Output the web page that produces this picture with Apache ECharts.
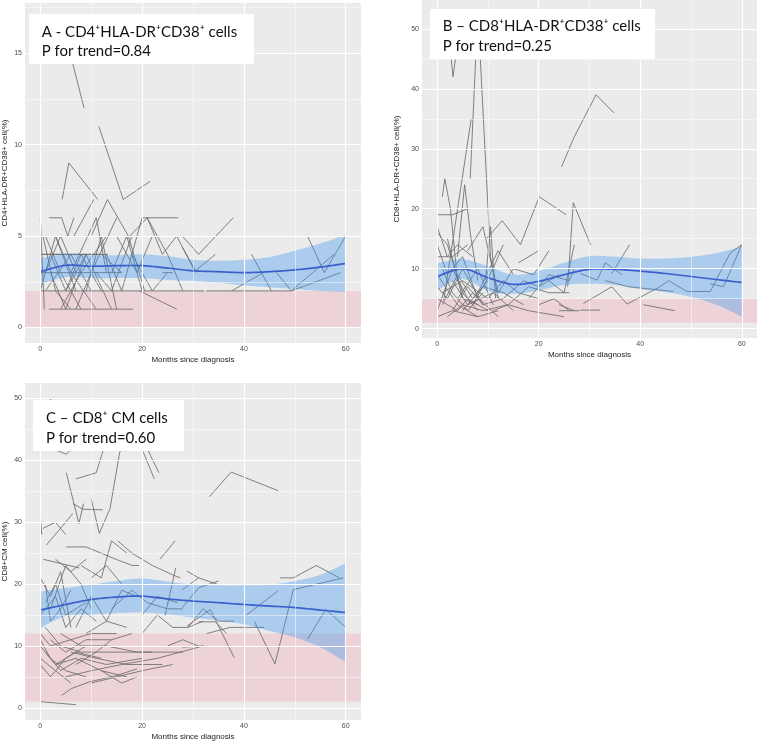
<!DOCTYPE html>
<html>
<head>
<meta charset="utf-8">
<script src="https://cdn.jsdelivr.net/npm/echarts@6/dist/echarts.min.js"></script>
<style>
html,body{margin:0;padding:0;background:#fff;}
#chart{width:758px;height:742px;}
</style>
</head>
<body>
<div id="chart"></div>
<script>
// ---------- axis ticks ----------
const xTicks = [0, 20, 40, 60];
const xMinor = [10, 30, 50];
const yTicksA = [0, 5, 10, 15];
const yMinorA = [2.5, 7.5, 12.5, 17.5];
const yTicksB = [0, 10, 20, 30, 40, 50];
const yMinorB = [5, 15, 25, 35, 45];
const yTicksC = [0, 10, 20, 30, 40, 50];
const yMinorC = [5, 15, 25, 35, 45];

// ---------- titles ----------
const titleA = ['A - CD4⁺HLA-DR⁺CD38⁺ cells', 'P for trend=0.84'];
const titleB = ['B – CD8⁺HLA-DR⁺CD38⁺ cells', 'P for trend=0.25'];
const titleC = ['C – CD8⁺ CM cells', 'P for trend=0.60'];
const yNameA = 'CD4+HLA-DR+CD38+ cell(%)';
const yNameB = 'CD8+HLA-DR+CD38+ cell(%)';
const yNameC = 'CD8+CM cell(%)';
const xName = 'Months since diagnosis';

// ---------- reference (normal range) bands ----------
const refA = [0, 2];
const refB = [1, 5];
const refC = [1, 12];

// ---------- smoothed fit (loess) ----------
const fitX = [0, 5, 10, 15, 20, 25, 30, 35, 40, 45, 50, 55, 60];
const fitA = [3.05, 3.4, 3.35, 3.38, 3.38, 3.25, 3.1, 3.05, 3.0, 3.05, 3.15, 3.3, 3.5];
const fitALo = [2.35, 2.75, 2.7, 2.7, 2.7, 2.6, 2.55, 2.45, 2.3, 2.2, 2.1, 2.0, 1.95];
const fitAHi = [3.8, 4.0, 3.95, 3.95, 4.0, 3.9, 3.7, 3.65, 3.7, 3.85, 4.2, 4.6, 5.05];

const fitB = [8.7, 10.0, 8.5, 7.4, 7.9, 9.0, 9.9, 9.9, 9.6, 9.2, 8.7, 8.2, 7.7];
const fitBLo = [6.4, 8.3, 6.3, 5.8, 6.4, 7.3, 7.5, 7.3, 6.6, 6.1, 5.3, 4.0, 2.0];
const fitBHi = [10.9, 11.6, 10.4, 9.0, 9.6, 11.0, 12.1, 12.0, 11.7, 11.7, 12.0, 12.6, 13.7];

const fitC = [15.8, 16.7, 17.5, 17.9, 18.05, 17.6, 17.25, 17.0, 16.7, 16.45, 16.2, 15.8, 15.4];
const fitCLo = [12.9, 14.85, 15.1, 15.3, 15.4, 15.1, 14.6, 14.1, 13.5, 12.4, 11.4, 9.8, 7.4];
const fitCHi = [18.75, 19.4, 19.9, 20.5, 20.9, 20.4, 19.9, 19.8, 19.8, 19.9, 20.5, 21.5, 23.4];

// ---------- individual patient trajectories [month, value] ----------
const linesA = [
  [[4.5,16.5],[8.6,12]],
  [[11.5,11],[16.3,7],[21.6,8]],
  [[4.3,7],[5.6,9],[11.3,7]],
  [[1.7,6],[4.2,6],[5.4,5],[6.6,6]],
  [[6.6,5],[10.5,7]],
  [[20,6],[27.1,6]],
  [[17.6,5],[21,6],[24,4],[26.8,5],[30.5,3]],
  [[10,5],[13.2,7],[17.3,5],[20.5,2]],
  [[0,4],[13.3,4]],
  [[0,4],[12,4],[16,3]],
  [[0,3],[16,3]],
  [[0,2],[32.2,2]],
  [[32.6,2],[49.3,2]],
  [[1.7,1],[18.2,1]],
  [[19.5,2],[26.8,1]],
  [[27.9,5],[31.1,4],[37.9,6]],
  [[27.9,4.4],[30.5,3.1],[34.4,4]],
  [[41.5,4],[45.4,2]],
  [[37.6,2],[43.8,3]],
  [[46.4,3],[49.3,2],[59,3]],
  [[52.5,5],[55.8,3],[60,5]],
  [[49.3,2],[57.7,4]],
  [[0,6],[0.8,1]],
  [[0.5,5],[3,2],[6,1]],
  [[1,5],[4,3],[8,1]],
  [[0,2],[3,5],[7,2]],
  [[2,3],[5,1],[9,4]],
  [[3,5],[6,3],[11,1]],
  [[1,2],[6,4],[10,2]],
  [[4,1],[8,3],[13,5]],
  [[5,2],[9,4],[14,1]],
  [[7,1],[10,3],[15,6]],
  [[2,4],[5,2],[8,4],[12,2]],
  [[6,3],[11,6],[13,3]],
  [[9,2],[12,5],[15,1]],
  [[11,3],[14,2],[18,5]],
  [[13,4],[16,2],[20,6]],
  [[14,3],[17,5],[20,2]],
  [[18,4],[22,2],[25,3]],
  [[21,6],[25,4],[28,2]],
  [[15,5],[19,3],[22,5]],
  [[1,3],[4,5],[7,3]],
  [[24,3],[26,3]]
];

const linesB = [
  [[6.5,25],[8,53],[10.5,12],[12,5]],
  [[2.4,48],[3.1,42],[4.1,48]],
  [[1.3,4.8],[6.7,35]],
  [[4,12],[5.4,24],[6.5,16],[8,8]],
  [[1,22],[1.5,25],[2.6,20],[4,8]],
  [[9.7,15],[12.8,18],[16.4,14],[20.1,22],[25.4,19]],
  [[9.5,8],[10.5,17],[11.5,5]],
  [[25.7,7],[26.8,21],[30.2,14]],
  [[24.5,27],[27,32],[31.3,39],[34.8,36]],
  [[28.2,9.2],[31.5,8.1],[33.1,11],[36.4,9]],
  [[34.4,9.2],[37.9,14]],
  [[33.1,8],[37.7,7],[46.5,6.2]],
  [[28.8,4.2],[34.4,7],[37.4,4.1],[43.9,7],[45.6,8],[49.2,6.2],[53.8,6.2],[57.7,12.6],[60,14]],
  [[53.8,7.5],[56.4,7],[60,14]],
  [[40.6,4],[46.8,3]],
  [[28.2,3.1],[32.1,3.1]],
  [[24,4],[27,3]],
  [[24,3],[28,3]],
  [[0,19],[3,19],[6,20]],
  [[0,17],[2,12],[4,14],[7,12]],
  [[0,12],[3,12],[6,14]],
  [[0,16],[2,14],[5,6],[8,3]],
  [[0,3],[3,10],[6,5],[10,3]],
  [[0,9],[4,4],[8,2]],
  [[0,7],[2,5],[5,10],[9,4]],
  [[1,10],[3,6],[6,3],[9,6]],
  [[0,5],[4,3],[7,6],[12,2]],
  [[2,2],[5,4],[9,3],[14,4]],
  [[0,2],[3,3],[8,2],[12,3]],
  [[3,8],[6,4],[11,6],[15,3]],
  [[4,5],[8,10],[11,4]],
  [[5,3],[9,7],[13,6],[17,4]],
  [[1,6],[5,8],[10,5]],
  [[7,4],[11,10],[13,14]],
  [[10,5],[13,8],[16,6],[20,5]],
  [[11,3],[14,4],[18,3],[25,2]],
  [[12,6],[15,10],[19,9],[22,13]],
  [[13,5],[17,8],[20,7],[24,9]],
  [[8,6],[12,13],[15,9]],
  [[16,11],[20,13]],
  [[14,4],[18,7],[22,6],[26,6]],
  [[18,5],[22,9],[26,8],[27,10]],
  [[20,4],[23,5],[26,3]],
  [[22,8],[25,6],[27,14]],
  [[6,13],[9,17],[12,6]],
  [[0,14],[2,9],[5,12],[8,5]],
  [[1,4],[4,9],[7,5],[10,8]],
  [[2,15],[5,5],[8,4]],
  [[3,3],[6,7],[9,4],[13,5]]
];

const linesC = [
  [[2,50],[3,45]],
  [[3.2,41.6],[5.1,41],[6.4,42]],
  [[7,37],[11,38],[12.5,42]],
  [[5.1,38],[7.6,29.8],[8.5,33]],
  [[10,33.8],[11.6,28.2],[13.7,32.2],[15.6,41.3],[16.5,43]],
  [[19.4,43],[22.4,37]],
  [[20.7,42.4],[23.3,38]],
  [[0.5,29],[3,30],[5,28]],
  [[0,31],[0.3,28]],
  [[1.2,26.3],[6.4,31.4]],
  [[6.4,33],[8.4,32.1],[12.3,32]],
  [[5.1,26],[9,26],[15.2,23.9],[18.1,23],[19.4,23]],
  [[15.2,27],[18,25],[22,23],[26,21.5],[27.5,21]],
  [[23.5,24],[26.5,27]],
  [[0.6,24],[7.7,22.6]],
  [[28.8,22.1],[31.1,21],[34.7,20]],
  [[27.9,19.1],[31.1,21]],
  [[47.1,21],[49.7,21],[54.2,23],[58.8,21]],
  [[42.1,13.9],[46.1,7.1],[49.7,19.1],[59.5,21]],
  [[40.5,15],[46.7,18.9]],
  [[52.5,11.1],[56.1,15.9],[60,13]],
  [[32.7,12],[37.3,13],[44,13]],
  [[28.8,13.2],[33.4,15.9],[38.1,8.1]],
  [[31.1,13.9],[34.4,13.9],[36.6,12]],
  [[27.9,9.8],[32.1,10]],
  [[33.2,34.1],[37.5,38.1],[46.7,35.1]],
  [[24.5,14.9],[26.6,22.6]],
  [[27.9,16.2],[31.1,19.4],[35,20.5]],
  [[0,1],[7,0.5]],
  [[4.2,2],[6.1,3.1],[9.7,4.2],[14.9,5.2],[19,6.3]],
  [[0,11],[2,8],[5,6],[9,5]],
  [[0,10],[3,7],[7,9],[12,8]],
  [[0,12],[2,10],[6,11],[10,12],[15,12]],
  [[1,9],[4,6],[8,8],[13,7],[20,8]],
  [[0,7],[2,5],[5,8],[9,10]],
  [[1,13],[4,10],[8,9],[14,9],[22,9]],
  [[2,11],[5,9],[9,11],[14,11]],
  [[3,7],[7,8],[12,6],[17,5]],
  [[4,12],[8,10],[13,10],[19,9],[28,9]],
  [[5,5],[10,6],[16,7],[23,8],[32,10]],
  [[6,9],[11,8],[17,7],[24,7]],
  [[0,8],[3,6],[6,4]],
  [[10,4],[15,5],[20,6],[26,7]],
  [[12,6],[16,4],[19,5]],
  [[7,7],[11,9],[14,11],[18,12]],
  [[9,12],[13,14],[17,13]],
  [[1,17],[3,20],[5,15],[9,17]],
  [[0,21],[2,18],[4,22],[6,13]],
  [[1,20],[2,14],[4,16],[6,19]],
  [[0,15],[3,18],[5,13],[8,16],[11,14]],
  [[2,16],[5,23],[8,20],[10,16]],
  [[7,13],[10,18],[13,14],[16,19],[19,18]],
  [[14,16],[18,19],[21,17],[25,16],[28,16]],
  [[20,12],[23,15],[26,13],[29,13],[32,14]],
  [[25,10],[28,11],[31,10]],
  [[29,13],[32,16],[35,14],[38,14]],
  [[8,23],[12,21],[14,27],[17,25]],
  [[3,24],[6,22],[9,24]],
  [[10,21],[13,23],[16,20]],
  [[20,15],[23,18],[27,17]]
];

// ---------- build chart ----------
const chart = echarts.init(document.getElementById('chart'), null, {renderer: 'canvas'});

const grids = [
  {left: 21, top: 3, width: 340, height: 340},
  {left: 422, top: 0, width: 335, height: 338},
  {left: 21, top: 383, width: 340, height: 340}
];
const yRanges = [[-0.85, 17.75], [-1.55, 54.8], [-1.97, 52.5]];
const yTicksAll = [yTicksA, yTicksB, yTicksC];
const yMinorAll = [yMinorA, yMinorB, yMinorC];
const yNames = [yNameA, yNameB, yNameC];
const yNameGaps = [16, 21, 16];

const FONT = 'Liberation Sans';

const xAxes = grids.map((g, i) => ({
  type: 'value', gridIndex: i, min: -3, max: 63,
  name: xName, nameLocation: 'middle', nameGap: 13,
  nameTextStyle: {fontFamily: FONT, fontSize: 8, color: '#222'},
  axisLine: {show: false},
  axisTick: {show: true, length: 3, customValues: xTicks, lineStyle: {color: '#333', width: 0.8}},
  axisLabel: {show: true, customValues: xTicks, fontFamily: FONT, fontSize: 7, color: '#4D4D4D', margin: 3},
  splitLine: {show: false}
}));

const yAxes = grids.map((g, i) => ({
  type: 'value', gridIndex: i, min: yRanges[i][0], max: yRanges[i][1],
  name: yNames[i], nameLocation: 'middle', nameGap: yNameGaps[i], nameRotate: 90,
  nameTextStyle: {fontFamily: FONT, fontSize: 8, color: '#222'},
  axisLine: {show: false},
  axisTick: {show: true, length: 3, customValues: yTicksAll[i], lineStyle: {color: '#333', width: 0.8}},
  axisLabel: {show: true, customValues: yTicksAll[i], fontFamily: FONT, fontSize: 7, color: '#4D4D4D', margin: 3},
  splitLine: {show: false}
}));

function gridLineSeries(i) {
  const data = [];
  xTicks.forEach(v => data.push({xAxis: v, lineStyle: {color: '#fff', width: 1.1, type: 'solid'}}));
  xMinor.forEach(v => data.push({xAxis: v, lineStyle: {color: '#fff', width: 0.5, type: 'solid'}}));
  yTicksAll[i].forEach(v => data.push({yAxis: v, lineStyle: {color: '#fff', width: 1.1, type: 'solid'}}));
  yMinorAll[i].filter(v => v < yRanges[i][1]).forEach(v => data.push({yAxis: v, lineStyle: {color: '#fff', width: 0.5, type: 'solid'}}));
  return {
    type: 'line', xAxisIndex: i, yAxisIndex: i, data: [], z: 0, silent: true, animation: false,
    markLine: {silent: true, symbol: ['none', 'none'], label: {show: false}, animation: false, data: data}
  };
}

function refSeries(i, band) {
  return {
    type: 'line', xAxisIndex: i, yAxisIndex: i, data: [], z: 1, silent: true, animation: false,
    markArea: {silent: true, animation: false, itemStyle: {color: 'rgba(240,178,188,0.42)'},
      data: [[{yAxis: band[0]}, {yAxis: band[1]}]]}
  };
}

function trajSeries(i, lines) {
  return lines.map(l => ({
    type: 'line', xAxisIndex: i, yAxisIndex: i, data: l, symbol: 'none', showSymbol: false,
    lineStyle: {color: '#6c6c6c', width: 0.85}, z: 2, silent: true, animation: false
  }));
}

// Catmull-Rom spline sampled in pixel space (drawing only)
function splinePts(pts) {
  const out = [pts[0]];
  const n = pts.length;
  for (let i = 0; i < n - 1; i++) {
    const p0 = pts[Math.max(0, i - 1)], p1 = pts[i], p2 = pts[i + 1], p3 = pts[Math.min(n - 1, i + 2)];
    const c1 = [p1[0] + (p2[0] - p0[0]) / 6, p1[1] + (p2[1] - p0[1]) / 6];
    const c2 = [p2[0] - (p3[0] - p1[0]) / 6, p2[1] - (p3[1] - p1[1]) / 6];
    for (let k = 1; k <= 12; k++) {
      const t = k / 12, u = 1 - t;
      out.push([
        u*u*u*p1[0] + 3*u*u*t*c1[0] + 3*u*t*t*c2[0] + t*t*t*p2[0],
        u*u*u*p1[1] + 3*u*u*t*c1[1] + 3*u*t*t*c2[1] + t*t*t*p2[1]
      ]);
    }
  }
  return out;
}

function fitSeries(i, mid, lo, hi) {
  const rows = fitX.map((x, j) => [x, mid[j], lo[j], hi[j]]);
  return {
    type: 'custom', coordinateSystem: 'cartesian2d', xAxisIndex: i, yAxisIndex: i,
    data: rows, z: 3, silent: true, animation: false,
    encode: {x: 0, y: [1, 2, 3]},
    renderItem: function (params, api) {
      if (params.dataIndex !== 0) return null;
      const up = splinePts(rows.map(r => api.coord([r[0], r[3]])));
      const dn = splinePts(rows.map(r => api.coord([r[0], r[2]])));
      const md = splinePts(rows.map(r => api.coord([r[0], r[1]])));
      const poly = up.concat(dn.slice().reverse());
      return {
        type: 'group',
        children: [
          {type: 'polygon', shape: {points: poly}, style: {fill: 'rgba(60,150,240,0.36)', stroke: null}},
          {type: 'polyline', shape: {points: md}, style: {stroke: '#3a5fcd', lineWidth: 1.7, fill: null}}
        ]
      };
    }
  };
}

const series = [].concat(
  gridLineSeries(0), refSeries(0, refA), trajSeries(0, linesA), fitSeries(0, fitA, fitALo, fitAHi),
  gridLineSeries(1), refSeries(1, refB), trajSeries(1, linesB), fitSeries(1, fitB, fitBLo, fitBHi),
  gridLineSeries(2), refSeries(2, refC), trajSeries(2, linesC), fitSeries(2, fitC, fitCLo, fitCHi)
);

function titleBox(x, y, w, h, lines, tx, ty1, ty2) {
  return [
    {type: 'rect', z: 100, shape: {x: x, y: y, width: w, height: h}, style: {fill: '#fff'}},
    {type: 'text', z: 101, x: tx, y: ty1, style: {text: lines[0], font: '15px Lato', fill: '#111', verticalAlign: 'middle'}},
    {type: 'text', z: 101, x: tx, y: ty2, style: {text: lines[1], font: '15px Lato', fill: '#111', verticalAlign: 'middle'}}
  ];
}

const graphic = [].concat(
  titleBox(29, 14, 225, 50, titleA, 41.7, 31.7, 51),
  titleBox(430, 9, 225, 50, titleB, 442.7, 25.7, 46),
  titleBox(33, 400, 151, 51, titleC, 46, 417.7, 437.7)
);

chart.setOption({
  backgroundColor: '#fff',
  animation: false,
  grid: grids.map(g => Object.assign({show: true, backgroundColor: '#EBEBEB', borderWidth: 0, containLabel: false}, g)),
  xAxis: xAxes,
  yAxis: yAxes,
  series: series,
  graphic: graphic
});
</script>
</body>
</html>
